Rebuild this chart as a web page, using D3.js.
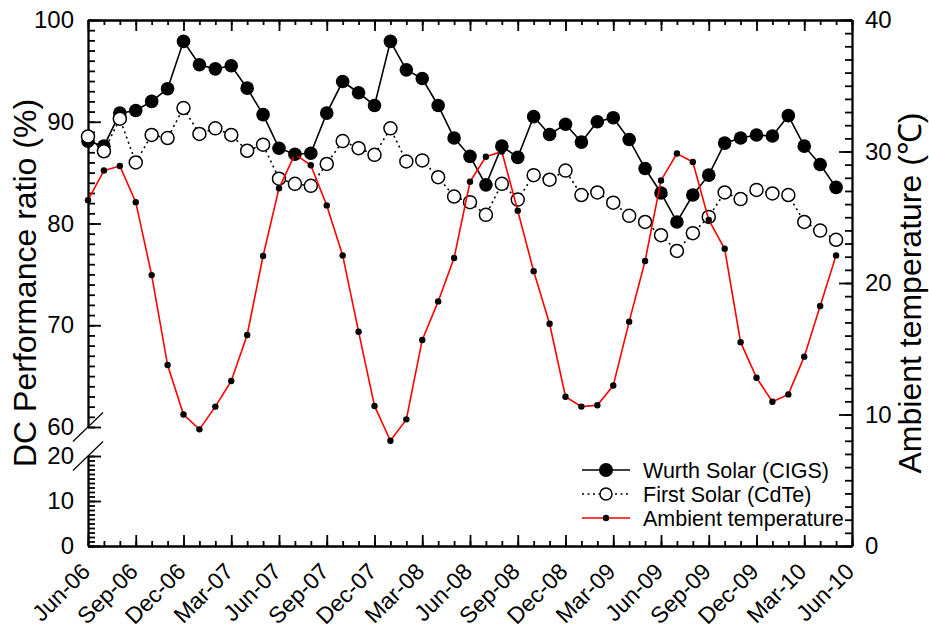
<!DOCTYPE html>
<html>
<head>
<meta charset="utf-8">
<script src="https://cdn.jsdelivr.net/npm/d3@7"></script>
<style>
body { margin: 0; background: #fff; }
svg { display: block; }
svg text { font-family: "Liberation Sans", Arial, sans-serif; fill: #000; }
.axis path, .axis line { stroke: #000; stroke-width: 1.8; }
.axis .tick text { font-size: 24px; }
.axis.xlab .tick text { font-size: 23px; }
</style>
</head>
<body>
<svg width="929" height="631"></svg>
<script>
// tick labels every 3 months, Jun-06 .. Jun-10
var tickLabels = ["Jun-06", "Sep-06", "Dec-06", "Mar-07", "Jun-07", "Sep-07", "Dec-07", "Mar-08",
  "Jun-08", "Sep-08", "Dec-08", "Mar-09", "Jun-09", "Sep-09", "Dec-09", "Mar-10", "Jun-10"];

// monthly values, Jun-06 .. May-10
var wurth = [88.1, 87.6, 90.85, 91.1, 92.0, 93.25, 97.9, 95.6, 95.2, 95.5,
  93.3, 90.7, 87.4, 86.8, 86.9, 90.85, 93.95, 92.85, 91.6, 97.9,
  95.1, 94.25, 91.6, 88.4, 86.6, 83.8, 87.6, 86.5, 90.5, 88.75,
  89.75, 88.0, 90.0, 90.4, 88.25, 85.4, 83.0, 80.15, 82.8, 84.75,
  87.9, 88.4, 88.7, 88.6, 90.6, 87.6, 85.8, 83.55];

var firstSolar = [88.55, 87.1, 90.3, 86.0, 88.7, 88.4, 91.35, 88.8, 89.35, 88.7,
  87.15, 87.75, 84.4, 83.9, 83.7, 85.85, 88.1, 87.4, 86.75, 89.35,
  86.1, 86.2, 84.55, 82.65, 82.1, 80.85, 83.9, 82.35, 84.75, 84.3,
  85.2, 82.8, 83.05, 82.05, 80.75, 80.15, 78.85, 77.3, 79.05, 80.65,
  83.05, 82.4, 83.3, 82.95, 82.8, 80.15, 79.3, 78.4];

var temperature = [26.3, 28.55, 28.9, 26.15, 20.6, 13.76, 10.0, 8.87, 10.6, 12.55,
  16.05, 22.05, 27.2, 29.8, 28.95, 25.9, 22.1, 16.3, 10.65, 8.0,
  9.63, 15.67, 18.6, 21.9, 27.7, 29.6, 30.0, 25.5, 20.9, 16.9,
  11.35, 10.6, 10.7, 12.2, 17.06, 21.67, 27.8, 29.85, 29.2, 24.8,
  22.6, 15.5, 12.8, 10.97, 11.53, 14.4, 18.25, 22.1];

var legendNames = ["Wurth Solar (CIGS)", "First Solar (CdTe)", "Ambient temperature"];

var svg = d3.select("svg");
var mLeft = 88, mRight = 852, mTop = 20, mBottom = 546;

var x = d3.scaleLinear().domain([0, 48]).range([mLeft, mRight]);
var yHigh = d3.scaleLinear().domain([60, 100]).range([427, mTop]);
var yLow = d3.scaleLinear().domain([0, 20]).range([mBottom, 456]);
var yTemp = d3.scaleLinear().domain([0, 40]).range([mBottom, mTop]);

function pr(v) { return v >= 40 ? yHigh(v) : yLow(v); }

function addAxis(axis, tx, ty) {
  return svg.append("g").attr("class", "axis")
    .attr("transform", "translate(" + tx + "," + ty + ")")
    .call(axis);
}

// left axis, upper part 60-100
addAxis(d3.axisLeft(yHigh).tickValues(d3.range(60, 101)).tickSize(-7).tickSizeOuter(0).tickFormat(""), mLeft, 0);
addAxis(d3.axisLeft(yHigh).tickValues([60, 70, 80, 90, 100]).tickSize(-13).tickSizeOuter(0).tickPadding(14), mLeft, 0);
// left axis, lower part 0-20
addAxis(d3.axisLeft(yLow).tickValues(d3.range(0, 21)).tickSize(-7).tickSizeOuter(0).tickFormat(""), mLeft, 0);
addAxis(d3.axisLeft(yLow).tickValues([0, 10, 20]).tickSize(-13).tickSizeOuter(0).tickPadding(14), mLeft, 0);

// right axis
addAxis(d3.axisRight(yTemp).tickValues(d3.range(0, 41)).tickSize(-7).tickSizeOuter(0).tickFormat(""), mRight, 0);
addAxis(d3.axisRight(yTemp).tickValues([0, 10, 20, 30, 40]).tickSize(-13).tickSizeOuter(0).tickPadding(13), mRight, 0);

// top axis
addAxis(d3.axisTop(x).tickValues(d3.range(0, 49)).tickSize(-5).tickSizeOuter(0).tickFormat(""), 0, mTop);
addAxis(d3.axisTop(x).tickValues(d3.range(0, 49, 3)).tickSize(-11).tickSizeOuter(0).tickFormat(""), 0, mTop);

// bottom axis
addAxis(d3.axisBottom(x).tickValues(d3.range(0, 49)).tickSize(-5).tickSizeOuter(0).tickFormat(""), 0, mBottom);
var xb = addAxis(d3.axisBottom(x).tickValues(d3.range(0, 49, 3)).tickSize(-11).tickSizeOuter(0)
  .tickFormat(function(d) { return tickLabels[d / 3]; }), 0, mBottom);
xb.classed("xlab", true);
xb.selectAll("text")
  .attr("y", null).attr("dy", null)
  .attr("text-anchor", "end")
  .attr("transform", "translate(3,27) rotate(-45)");

// axis break marks
[yHigh(60), yLow(20)].forEach(function(yy) {
  svg.append("line")
    .attr("x1", mLeft - 15).attr("y1", yy + 14.5)
    .attr("x2", mLeft + 15).attr("y2", yy - 14.5)
    .attr("stroke", "#000").attr("stroke-width", 1.2);
});

// series
var prLine = d3.line().x(function(d, i) { return x(i); }).y(function(d) { return pr(d); });
var tLine = d3.line().x(function(d, i) { return x(i); }).y(function(d) { return yTemp(d); });

svg.append("path").datum(wurth).attr("d", prLine)
  .attr("fill", "none").attr("stroke", "#000").attr("stroke-width", 1.6);
svg.selectAll(".wurth").data(wurth).enter().append("circle")
  .attr("class", "wurth")
  .attr("cx", function(d, i) { return x(i); })
  .attr("cy", function(d) { return pr(d); })
  .attr("r", 6.8).attr("fill", "#000");

svg.append("path").datum(firstSolar).attr("d", prLine)
  .attr("fill", "none").attr("stroke", "#000").attr("stroke-width", 1.6)
  .attr("stroke-dasharray", "2,3.5");
svg.selectAll(".fs").data(firstSolar).enter().append("circle")
  .attr("class", "fs")
  .attr("cx", function(d, i) { return x(i); })
  .attr("cy", function(d) { return pr(d); })
  .attr("r", 6.5).attr("fill", "#fff").attr("stroke", "#000").attr("stroke-width", 1.5);

svg.append("path").datum(temperature).attr("d", tLine)
  .attr("fill", "none").attr("stroke", "#f00").attr("stroke-width", 1.6);
svg.selectAll(".temp").data(temperature).enter().append("circle")
  .attr("class", "temp")
  .attr("cx", function(d, i) { return x(i); })
  .attr("cy", function(d) { return yTemp(d); })
  .attr("r", 3.2).attr("fill", "#000");

// legend
var legend = svg.append("g").attr("transform", "translate(582,470)");
legendNames.forEach(function(name, i) {
  var g = legend.append("g").attr("transform", "translate(0," + (i * 24) + ")");
  var ln = g.append("line").attr("x1", 0).attr("x2", 48).attr("y1", 0).attr("y2", 0)
    .attr("stroke-width", 1.6);
  if (i == 0) {
    ln.attr("stroke", "#000");
    g.append("circle").attr("cx", 24).attr("r", 7).attr("fill", "#000");
  } else if (i == 1) {
    ln.attr("stroke", "#000").attr("stroke-dasharray", "2,3.5");
    g.append("circle").attr("cx", 24).attr("r", 6).attr("fill", "#fff")
      .attr("stroke", "#000").attr("stroke-width", 1.5);
  } else {
    ln.attr("stroke", "#f00");
    g.append("circle").attr("cx", 24).attr("r", 3.2).attr("fill", "#000");
  }
  g.append("text").attr("x", 61).attr("dy", "0.35em")
    .style("font-size", "21.5px").text(name);
});

// axis titles
svg.append("text")
  .attr("transform", "translate(36,283) rotate(-90)")
  .attr("text-anchor", "middle").style("font-size", "32px")
  .text("DC Performance ratio (%)");
svg.append("text")
  .attr("transform", "translate(921,293) rotate(-90)")
  .attr("text-anchor", "middle").style("font-size", "32px")
  .text("Ambient temperature (\u2103)");
</script>
</body>
</html>
